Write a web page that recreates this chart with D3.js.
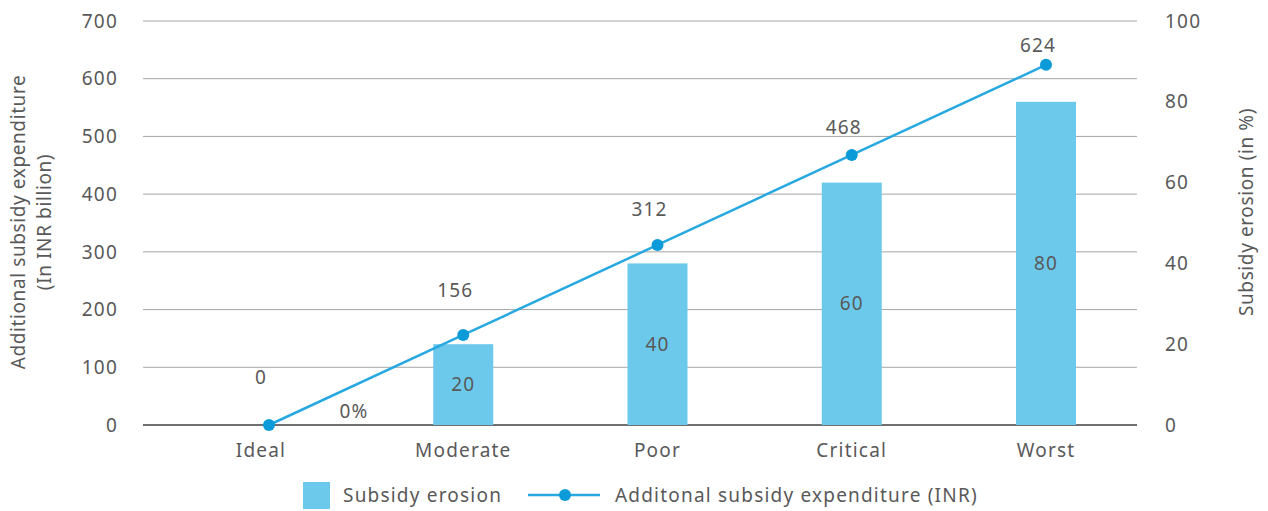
<!DOCTYPE html>
<html>
<head>
<meta charset="utf-8">
<script src="https://d3js.org/d3.v7.min.js"></script>
<style>
  body { margin: 0; background: #fff; font-family: 'Noto Sans', sans-serif; }
  text { fill: #595959; font-size: 19px; letter-spacing: 1.2px; }
</style>
</head>
<body>
<svg id="chart" width="1268" height="511"></svg>
<script>
// data
var categories = ["Ideal", "Moderate", "Poor", "Critical", "Worst"];
var erosion = [0, 20, 40, 60, 80];            // bars, right axis (%)
var expenditure = [0, 156, 312, 468, 624];    // line, left axis (INR billion)
var leftTicks = [0, 100, 200, 300, 400, 500, 600, 700];
var rightTicks = [0, 20, 40, 60, 80, 100];

var svg = d3.select("#chart");
var plotLeft = 143, plotRight = 1137, plotTop = 21, plotBottom = 425;

var x = d3.scalePoint().domain(categories).range([269, 1046]);
var yL = d3.scaleLinear().domain([0, 700]).range([plotBottom, plotTop]);
var yR = d3.scaleLinear().domain([0, 100]).range([plotBottom, plotTop]);

// gridlines
svg.selectAll(".grid").data(leftTicks).enter().append("line")
  .attr("x1", plotLeft).attr("x2", plotRight)
  .attr("y1", d => yL(d)).attr("y2", d => yL(d))
  .attr("stroke", d => d === 0 ? "#404040" : "#a6a6a6")
  .attr("stroke-width", d => d === 0 ? 1.5 : 1);

// left tick labels
svg.selectAll(".lt").data(leftTicks).enter().append("text")
  .attr("x", 118).attr("y", d => yL(d)).attr("dy", "0.35em")
  .attr("text-anchor", "end")
  .text(d => d);

// right tick labels
svg.selectAll(".rt").data(rightTicks).enter().append("text")
  .attr("x", 1165).attr("y", d => yR(d)).attr("dy", "0.35em")
  .attr("text-anchor", "start")
  .text(d => d);

// axis titles
svg.append("text")
  .attr("transform", "translate(25,222) rotate(-90)")
  .attr("text-anchor", "middle").style("letter-spacing", "0.6px")
  .text("Additional subsidy expenditure");
svg.append("text")
  .attr("transform", "translate(51,222) rotate(-90)")
  .attr("text-anchor", "middle").style("letter-spacing", "0.6px")
  .text("(In INR billion)");
svg.append("text")
  .attr("transform", "translate(1253,212) rotate(-90)")
  .attr("text-anchor", "middle").style("letter-spacing", "0.6px")
  .text("Subsidy erosion (in %)");

// bars
var barW = 60;
svg.selectAll(".bar").data(erosion).enter().append("rect")
  .attr("x", (d, i) => x(categories[i]) - barW / 2)
  .attr("y", d => yR(d))
  .attr("width", barW)
  .attr("height", d => plotBottom - yR(d))
  .attr("fill", "#6cc9ec");

// bar labels
svg.selectAll(".bl").data(erosion).enter().append("text")
  .attr("x", (d, i) => d === 0 ? x(categories[i]) + 85 : x(categories[i]))
  .attr("y", d => d === 0 ? plotBottom - 14 : (yR(d) + plotBottom) / 2)
  .attr("dy", "0.35em").attr("text-anchor", "middle")
  .text(d => d === 0 ? d + "%" : d);

// x labels
svg.selectAll(".xl").data(categories).enter().append("text")
  .attr("x", d => x(d) - (d === "Ideal" ? 8 : 0)).attr("y", 450)
  .attr("dy", "0.35em").attr("text-anchor", "middle")
  .text(d => d);

// line
var line = d3.line().x((d, i) => x(categories[i])).y(d => yL(d));
svg.append("path").datum(expenditure)
  .attr("d", line).attr("fill", "none")
  .attr("stroke", "#27a8e0").attr("stroke-width", 2.5);
svg.selectAll(".pt").data(expenditure).enter().append("circle")
  .attr("cx", (d, i) => x(categories[i])).attr("cy", d => yL(d))
  .attr("r", 6).attr("fill", "#0c9bd9");

// line labels (gap above the marker shrinks toward the right, as in the source)
var labelGap = [48, 45, 36, 28, 20];
svg.selectAll(".ll").data(expenditure).enter().append("text")
  .attr("x", (d, i) => x(categories[i]) - 8)
  .attr("y", (d, i) => yL(d) - labelGap[i])
  .attr("dy", "0.35em").attr("text-anchor", "middle")
  .text(d => d);

// legend
svg.append("rect").attr("x", 303).attr("y", 482).attr("width", 27).attr("height", 27)
  .attr("fill", "#6cc9ec");
svg.append("text").attr("x", 343).attr("y", 495).attr("dy", "0.35em")
  .text("Subsidy erosion");
svg.append("line").attr("x1", 528).attr("x2", 600).attr("y1", 495).attr("y2", 495)
  .attr("stroke", "#27a8e0").attr("stroke-width", 2.5);
svg.append("circle").attr("cx", 565).attr("cy", 495).attr("r", 6).attr("fill", "#0c9bd9");
svg.append("text").attr("x", 615).attr("y", 495).attr("dy", "0.35em")
  .text("Additonal subsidy expenditure (INR)");
</script>
</body>
</html>
